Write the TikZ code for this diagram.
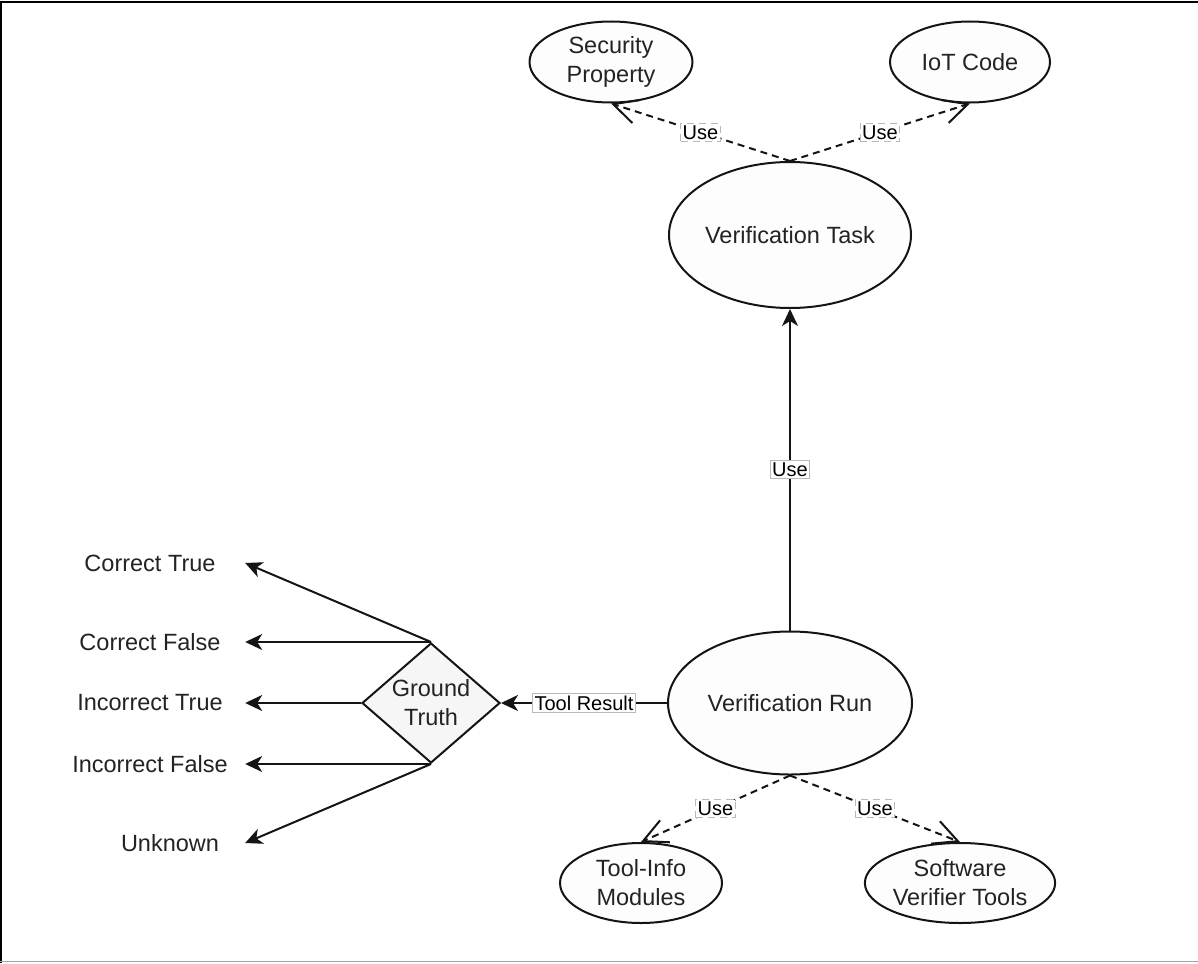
\documentclass[tikz,border=0pt]{standalone}
\usepackage{fontspec}
\setmainfont{Liberation Sans}
\usetikzlibrary{arrows.meta,shapes.geometric}
\definecolor{ln_dark}{RGB}{20, 20, 20}
\definecolor{tx_dark}{RGB}{35, 35, 35}
\definecolor{el_fill}{RGB}{253, 253, 253}
\definecolor{dm_fill}{RGB}{246, 246, 246}
\definecolor{lb_edge}{RGB}{185, 185, 185}
\tikzstyle{el}=[ellipse,draw=ln_dark,fill=el_fill,line width=2pt,inner sep=0pt,
  text=tx_dark,align=center,font=\fontsize{23.5}{29}\selectfont]
\tikzstyle{dm}=[diamond,draw=ln_dark,fill=dm_fill,line width=2pt,inner sep=0pt,
  minimum width=138pt,minimum height=120pt]
\tikzstyle{txt}=[text=tx_dark,inner sep=0pt,minimum height=30pt,
  font=\fontsize{23.5}{29}\selectfont]
\tikzstyle{lb}=[fill=white,draw=lb_edge,line width=0.8pt,inner sep=2pt,
  text=black,font=\fontsize{20}{24}\selectfont]
\tikzstyle{sol}=[draw=ln_dark,line width=2pt,-{Stealth[length=17pt,width=16pt,inset=5pt]}]
\tikzstyle{dsh}=[draw=ln_dark,line width=2pt,dash pattern=on 7pt off 5pt,
  -{Straight Barb[length=24pt,width=24pt,line width=2pt]}]

\begin{document}
\begin{tikzpicture}[x=1pt,y=-1pt]
        \useasboundingbox (0, 0) rectangle (1198, 963);
        % frame
        \draw[line width=2pt,black] (1, 963) -- (1, 2) -- (1198, 2);
        \draw[line width=1.5pt,gray!70] (0, 961.5) -- (1198, 961.5);
        % top row
        \node[style=el,minimum width=163pt,minimum height=81pt] (sp) at (611, 62) {Security\\Property};
        \node[style=el,minimum width=160pt,minimum height=81pt] (iot) at (970, 62) {IoT Code};
        \node[style=el,minimum width=242pt,minimum height=146pt] (task) at (790, 235) {Verification Task};
        \node[style=el,minimum width=244pt,minimum height=143pt] (run) at (790, 703) {Verification Run};
        % bottom row
        \node[style=el,minimum width=162pt,minimum height=80pt] (tim) at (641, 883) {Tool-Info\\Modules};
        \node[style=el,minimum width=160pt,minimum height=80pt] (svt) at (960, 883) {Software\\Verifier Tools};
        % ground truth and outcomes
        \node[style=dm,label={[text=tx_dark,align=center,font=\fontsize{23.5}{29}\selectfont]center:Ground\\Truth}] (gt) at (431, 703) {};
        \node[style=txt,minimum width=190pt] (ct) at (150, 563) {Correct True};
        \node[style=txt,minimum width=190pt] (cf) at (150, 642) {Correct False};
        \node[style=txt,minimum width=190pt] (it) at (150, 703) {Incorrect True};
        \node[style=txt,minimum width=190pt] (if) at (150, 764) {Incorrect False};
        \node[style=txt,minimum width=150pt] (uk) at (170, 843) {Unknown};
        % connectors
        \draw[style=dsh] (task.north) to node[style=lb] {Use} (sp.south);
        \draw[style=dsh] (task.north) to node[style=lb] {Use} (iot.south);
        \draw[style=sol] (run.north) to node[style=lb] {Use} (task.south);
        \draw[style=dsh] (run.south) to node[style=lb] {Use} (tim.north);
        \draw[style=dsh] (run.south) to node[style=lb] {Use} (svt.north);
        \draw[style=sol] (run.west) to node[style=lb] {Tool Result} (gt.east);
        \draw[style=sol] (gt.north) to (ct.east);
        \draw[style=sol] (gt.north) to (cf.east);
        \draw[style=sol] (gt.west) to (it.east);
        \draw[style=sol] (gt.south) to (if.east);
        \draw[style=sol] (gt.south) to (uk.east);
    \end{tikzpicture}
\end{document}
